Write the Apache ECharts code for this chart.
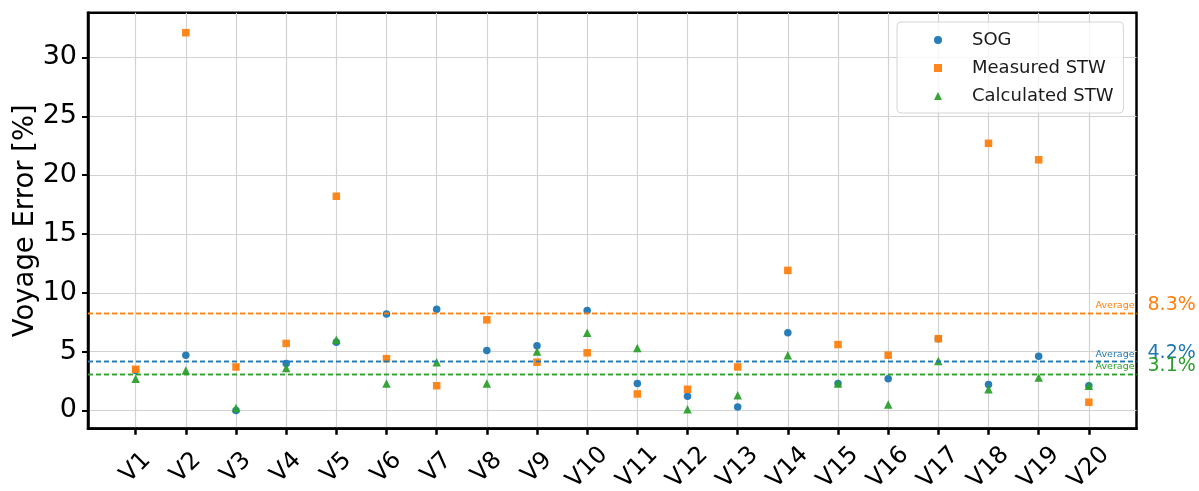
<!DOCTYPE html>
<html>
<head>
<meta charset="utf-8">
<title>Voyage Error</title>
<script src="https://cdn.jsdelivr.net/npm/echarts@6/dist/echarts.min.js"></script>
<style>
    html, body { margin: 0; padding: 0; background: #fff; }
    #chart { width: 1199px; height: 491px; }
</style>
</head>
<body>
<div id="chart"></div>
<script>
// data
const voyages = ['V1', 'V2', 'V3', 'V4', 'V5', 'V6', 'V7', 'V8', 'V9', 'V10',
    'V11', 'V12', 'V13', 'V14', 'V15', 'V16', 'V17', 'V18', 'V19', 'V20'];
const sog = [3.4, 4.7, 0.0, 4.0, 5.8, 8.2, 8.6, 5.1, 5.5, 8.5,
    2.3, 1.2, 0.3, 6.6, 2.3, 2.7, 6.1, 2.2, 4.6, 2.1];
const measuredStw = [3.5, 32.1, 3.7, 5.7, 18.2, 4.4, 2.1, 7.7, 4.1, 4.9,
    1.4, 1.8, 3.7, 11.9, 5.6, 4.7, 6.1, 22.7, 21.3, 0.7];
const calculatedStw = [2.7, 3.4, 0.2, 3.6, 6.0, 2.3, 4.1, 2.3, 5.0, 6.6,
    5.3, 0.1, 1.3, 4.7, 2.3, 0.5, 4.2, 1.8, 2.8, 2.1];
const seriesNames = ['SOG', 'Measured STW', 'Calculated STW'];
const averages = [4.2, 8.3, 3.1]; // same order as seriesNames
const yTicks = [0, 5, 10, 15, 20, 25, 30];

const colors = ['#1f77b4', '#ff7f0e', '#2ca02c']; // matplotlib tab10
const fontFamily = 'DejaVu Sans';
const xTicks = voyages.map((v, i) => i);

const toPoints = (vals) => vals.map((v, i) => [i, v]);

// dashed average line + two labels ("Average" inside, value outside)
const avgLine = (avg, color) => ({
    silent: true,
    symbol: 'none',
    animation: false,
    lineStyle: { color: color, type: [5, 3], width: 1.3 },
    data: [
        {
            yAxis: avg,
            label: { position: 'insideEndTop', formatter: 'Average', color: color, fontFamily, fontSize: 9.5, distance: 2 }
        },
        {
            yAxis: avg,
            label: { position: 'end', formatter: avg.toFixed(1) + '%', color: color, fontFamily, fontSize: 19, distance: 11, offset: [0, -8] }
        }
    ]
});

const chart = echarts.init(document.getElementById('chart'));

const option = {
    animation: false,
    color: colors,
    textStyle: { fontFamily },
    grid: {
        left: 88, right: 62.5, top: 12.7, bottom: 62.3,
        outerBoundsMode: 'none',
        show: true, borderColor: '#000', borderWidth: 2.5,
        containLabel: false
    },
    legend: {
        orient: 'vertical',
        left: 897,
        top: 22,
        padding: [9, 10, 8, 37],
        itemWidth: 8,
        itemHeight: 8,
        itemGap: 10,
        backgroundColor: 'rgba(255,255,255,0.8)',
        borderColor: '#d5d5d5',
        borderWidth: 1,
        borderRadius: 4,
        textStyle: { fontFamily, fontSize: 18, color: '#1a1a1a', padding: [0, 0, 0, 25] },
        data: seriesNames
    },
    xAxis: {
        type: 'value',
        min: -0.95,
        max: 19.95,
        axisLine: { show: true, onZero: false, lineStyle: { color: '#000', width: 2.5 } },
        axisTick: { show: true, customValues: xTicks, length: 6, lineStyle: { color: '#000', width: 2.5 } },
        axisLabel: {
            customValues: xTicks,
            formatter: (v) => voyages[v],
            rotate: 45,
            align: 'center',
            verticalAlign: 'middle',
            margin: 39,
            fontFamily,
            fontSize: 24,
            color: '#000'
        },
        splitLine: { show: true, lineStyle: { color: '#d2d2d2', width: 1.2 } }
    },
    yAxis: {
        type: 'value',
        min: -1.55,
        max: 33.8,
        splitNumber: 7,
        name: 'Voyage Error [%]',
        nameLocation: 'middle',
        nameGap: 48,
        nameMoveOverlap: false,
        nameTextStyle: { fontFamily, fontSize: 27.5, color: '#000' },
        axisLine: { show: true, onZero: false, lineStyle: { color: '#000', width: 2.5 } },
        axisTick: { show: true, customValues: yTicks, length: 6, lineStyle: { color: '#000', width: 2 } },
        axisLabel: { customValues: yTicks, margin: 11, fontFamily, fontSize: 27, color: '#000' },
        splitLine: { show: true, lineStyle: { color: '#d2d2d2', width: 1.2 } }
    },
    series: [
        {
            name: seriesNames[0],
            type: 'scatter',
            symbol: 'circle',
            symbolSize: 7.5,
            itemStyle: { color: colors[0], opacity: 0.95 },
            data: toPoints(sog),
            markLine: avgLine(averages[0], colors[0])
        },
        {
            name: seriesNames[1],
            type: 'scatter',
            symbol: 'rect',
            symbolSize: 7.5,
            itemStyle: { color: colors[1], opacity: 0.95 },
            data: toPoints(measuredStw),
            markLine: avgLine(averages[1], colors[1])
        },
        {
            name: seriesNames[2],
            type: 'scatter',
            symbol: 'triangle',
            symbolSize: 8.5,
            itemStyle: { color: colors[2], opacity: 0.95 },
            data: toPoints(calculatedStw),
            markLine: avgLine(averages[2], colors[2])
        }
    ]
};

chart.setOption(option);
</script>
</body>
</html>
